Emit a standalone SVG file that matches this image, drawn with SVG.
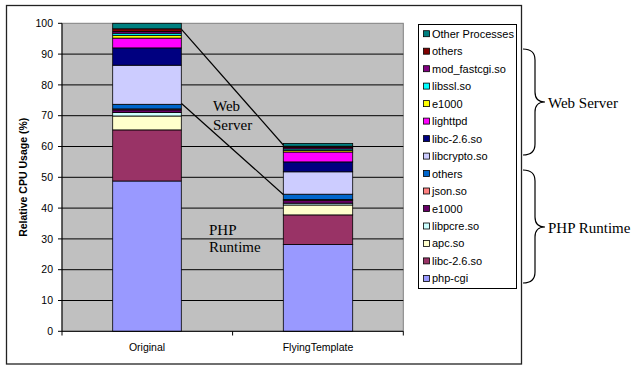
<svg xmlns="http://www.w3.org/2000/svg" width="636" height="366" viewBox="0 0 636 366">
<style>
.ax{font-family:"Liberation Sans",Arial,sans-serif;font-size:10.5px;fill:#000}
.lg{font-family:"Liberation Sans",Arial,sans-serif;font-size:11px;fill:#000}
.sr{font-family:"Liberation Serif","Times New Roman",serif;font-size:15px;fill:#000}
.seg{stroke:#000;stroke-width:0.8}
.sw{stroke:#000;stroke-width:0.8}
.grid{stroke:#000;stroke-width:1}
.conn{stroke:#000;stroke-width:1.2;fill:none}
.c1{fill:#9999FF}.c2{fill:#993366}.c3{fill:#FFFFCC}.c4{fill:#CCFFFF}.c5{fill:#660066}.c6{fill:#FF8080}.c7{fill:#0066CC}.c8{fill:#CCCCFF}.c9{fill:#000080}.c10{fill:#FF00FF}.c11{fill:#FFFF00}.c12{fill:#00FFFF}.c13{fill:#800080}.c14{fill:#800000}.c15{fill:#008080}
</style>
<rect id="frame" x="6.5" y="5.5" width="515" height="358.5" fill="#fff" stroke="#222" stroke-width="1.3"/>
<g id="plot">
<rect x="62" y="23.3" width="341.3" height="308" fill="#C0C0C0" stroke="#808080" stroke-width="1"/>
<g class="grid">
<line x1="62" y1="300.5" x2="403.3" y2="300.5"/>
<line x1="62" y1="269.7" x2="403.3" y2="269.7"/>
<line x1="62" y1="238.9" x2="403.3" y2="238.9"/>
<line x1="62" y1="208.1" x2="403.3" y2="208.1"/>
<line x1="62" y1="177.3" x2="403.3" y2="177.3"/>
<line x1="62" y1="146.5" x2="403.3" y2="146.5"/>
<line x1="62" y1="115.7" x2="403.3" y2="115.7"/>
<line x1="62" y1="84.9" x2="403.3" y2="84.9"/>
<line x1="62" y1="54.1" x2="403.3" y2="54.1"/>
</g>
</g>
<g id="bar-original" class="seg">
<rect class="c1" x="112.7" y="181.0" width="68.6" height="150.3"/>
<rect class="c2" x="112.7" y="129.9" width="68.6" height="51.1"/>
<rect class="c3" x="112.7" y="116.0" width="68.6" height="13.9"/>
<rect class="c4" x="112.7" y="112.6" width="68.6" height="3.4"/>
<rect class="c5" x="112.7" y="109.9" width="68.6" height="2.7"/>
<rect class="c6" x="112.7" y="108.9" width="68.6" height="1.0"/>
<rect class="c7" x="112.7" y="104.3" width="68.6" height="4.6"/>
<rect class="c8" x="112.7" y="65.2" width="68.6" height="39.1"/>
<rect class="c9" x="112.7" y="47.9" width="68.6" height="17.3"/>
<rect class="c10" x="112.7" y="38.1" width="68.6" height="9.8"/>
<rect class="c11" x="112.7" y="35.3" width="68.6" height="2.8"/>
<rect class="c12" x="112.7" y="33.2" width="68.6" height="2.1"/>
<rect class="c13" x="112.7" y="31.6" width="68.6" height="1.6"/>
<rect class="c14" x="112.7" y="28.8" width="68.6" height="2.8"/>
<rect class="c15" x="112.7" y="23.3" width="68.6" height="5.5"/>
</g>
<g id="bar-flying" class="seg">
<rect class="c1" x="283.3" y="244.5" width="69.4" height="86.8"/>
<rect class="c2" x="283.3" y="214.9" width="69.4" height="29.6"/>
<rect class="c3" x="283.3" y="205.0" width="69.4" height="9.9"/>
<rect class="c4" x="283.3" y="203.2" width="69.4" height="1.8"/>
<rect class="c5" x="283.3" y="200.4" width="69.4" height="2.8"/>
<rect class="c6" x="283.3" y="199.5" width="69.4" height="0.9"/>
<rect class="c7" x="283.3" y="194.2" width="69.4" height="5.3"/>
<rect class="c8" x="283.3" y="171.8" width="69.4" height="22.4"/>
<rect class="c9" x="283.3" y="161.9" width="69.4" height="9.9"/>
<rect class="c10" x="283.3" y="152.0" width="69.4" height="9.9"/>
<rect class="c11" x="283.3" y="150.5" width="69.4" height="1.5"/>
<rect class="c12" x="283.3" y="149.0" width="69.4" height="1.5"/>
<rect class="c13" x="283.3" y="147.7" width="69.4" height="1.3"/>
<rect class="c14" x="283.3" y="146.2" width="69.4" height="1.5"/>
<rect class="c15" x="283.3" y="143.4" width="69.4" height="2.8"/>
</g>
<g id="axes" stroke="#000" stroke-width="1">
<line x1="62" y1="23.3" x2="62" y2="331.3"/>
<line x1="62" y1="331.3" x2="403.3" y2="331.3"/>
<line x1="58" y1="331.3" x2="62" y2="331.3"/>
<line x1="58" y1="300.5" x2="62" y2="300.5"/>
<line x1="58" y1="269.7" x2="62" y2="269.7"/>
<line x1="58" y1="238.9" x2="62" y2="238.9"/>
<line x1="58" y1="208.1" x2="62" y2="208.1"/>
<line x1="58" y1="177.3" x2="62" y2="177.3"/>
<line x1="58" y1="146.5" x2="62" y2="146.5"/>
<line x1="58" y1="115.7" x2="62" y2="115.7"/>
<line x1="58" y1="84.9" x2="62" y2="84.9"/>
<line x1="58" y1="54.1" x2="62" y2="54.1"/>
<line x1="58" y1="23.3" x2="62" y2="23.3"/>
<line x1="62" y1="331.3" x2="62" y2="335.5"/>
<line x1="232.6" y1="331.3" x2="232.6" y2="335.5"/>
<line x1="403.3" y1="331.3" x2="403.3" y2="335.5"/>
</g>
<g id="axis-labels" class="ax" text-anchor="end">
<text x="53" y="335">0</text>
<text x="53" y="304.2">10</text>
<text x="53" y="273.4">20</text>
<text x="53" y="242.6">30</text>
<text x="53" y="211.8">40</text>
<text x="53" y="181">50</text>
<text x="53" y="150.2">60</text>
<text x="53" y="119.4">70</text>
<text x="53" y="88.6">80</text>
<text x="53" y="57.8">90</text>
<text x="53" y="27">100</text>
</g>
<g class="ax" text-anchor="middle">
<text x="147" y="350.5">Original</text>
<text x="318" y="350.5">FlyingTemplate</text>
</g>
<text id="ytitle" class="ax" font-weight="bold" font-size="11px" text-anchor="middle" transform="translate(26.5,177.3) rotate(-90)">Relative CPU Usage (%)</text>
<g id="connectors">
<line class="conn" x1="181.5" y1="29.3" x2="283.3" y2="145"/>
<line class="conn" x1="181.5" y1="103.5" x2="283.3" y2="194.5"/>
<path class="conn" d="M523,49 Q535,49 535,60 L535,92 Q535,102 545,102 Q535,102 535,112 L535,144 Q535,155 523,155"/>
<path class="conn" d="M523,170 Q535,170 535,181 L535,217 Q535,227 545,227 Q535,227 535,237 L535,272 Q535,283 523,283"/>
</g>
<g id="label-web" class="sr">
<text x="213" y="111">Web</text>
<text x="213" y="130">Server</text>
</g>
<g id="label-php" class="sr">
<text x="209" y="234.5">PHP</text>
<text x="209" y="252">Runtime</text>
</g>
<text id="brace-web" class="sr" x="548" y="107.5">Web Server</text>
<text id="brace-php" class="sr" x="548" y="232.5">PHP Runtime</text>
<g id="legend">
<rect x="418.5" y="24.5" width="98" height="264" fill="#fff" stroke="#000" stroke-width="1"/>
<g class="sw">
<rect class="c15" x="423.5" y="30.7" width="6" height="6"/>
<rect class="c14" x="423.5" y="48.2" width="6" height="6"/>
<rect class="c13" x="423.5" y="65.7" width="6" height="6"/>
<rect class="c12" x="423.5" y="83.1" width="6" height="6"/>
<rect class="c11" x="423.5" y="100.6" width="6" height="6"/>
<rect class="c10" x="423.5" y="118.1" width="6" height="6"/>
<rect class="c9" x="423.5" y="135.6" width="6" height="6"/>
<rect class="c8" x="423.5" y="153.1" width="6" height="6"/>
<rect class="c7" x="423.5" y="170.5" width="6" height="6"/>
<rect class="c6" x="423.5" y="188.0" width="6" height="6"/>
<rect class="c5" x="423.5" y="205.5" width="6" height="6"/>
<rect class="c4" x="423.5" y="223.0" width="6" height="6"/>
<rect class="c3" x="423.5" y="240.4" width="6" height="6"/>
<rect class="c2" x="423.5" y="257.9" width="6" height="6"/>
<rect class="c1" x="423.5" y="275.4" width="6" height="6"/>
</g>
<g class="lg">
<text x="432" y="37.7">Other Processes</text>
<text x="432" y="55.2">others</text>
<text x="432" y="72.7">mod_fastcgi.so</text>
<text x="432" y="90.1">libssl.so</text>
<text x="432" y="107.6">e1000</text>
<text x="432" y="125.1">lighttpd</text>
<text x="432" y="142.6">libc-2.6.so</text>
<text x="432" y="160.1">libcrypto.so</text>
<text x="432" y="177.5">others</text>
<text x="432" y="195.0">json.so</text>
<text x="432" y="212.5">e1000</text>
<text x="432" y="230.0">libpcre.so</text>
<text x="432" y="247.4">apc.so</text>
<text x="432" y="264.9">libc-2.6.so</text>
<text x="432" y="282.4">php-cgi</text>
</g>
</g>
</svg>
